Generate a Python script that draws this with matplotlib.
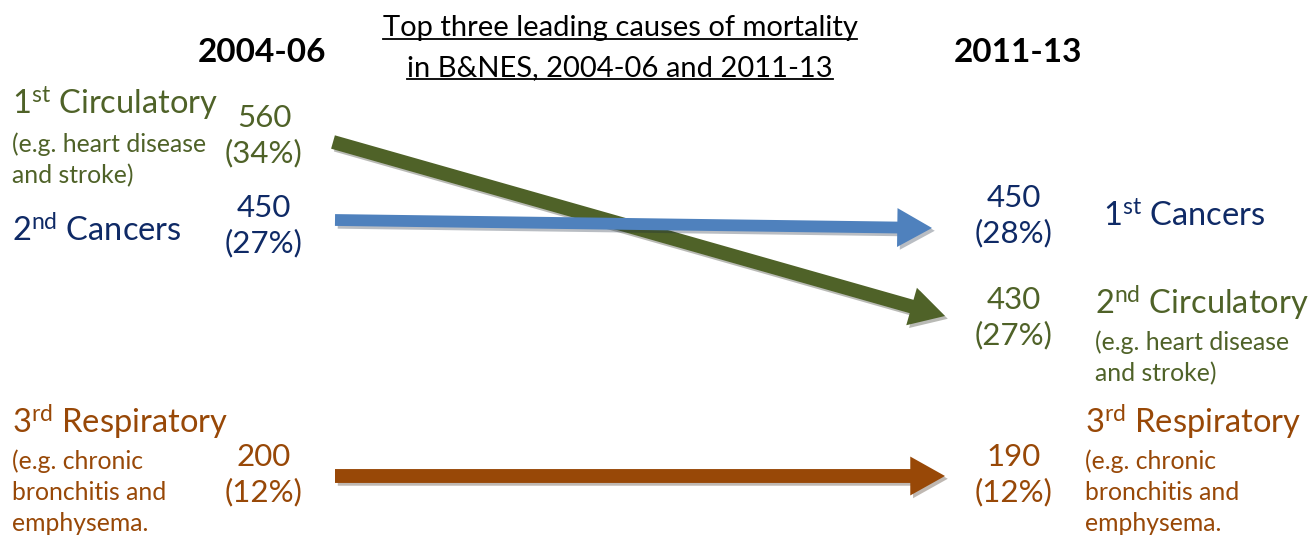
import matplotlib
matplotlib.use("Agg")
import matplotlib.pyplot as plt
import matplotlib.patheffects as pe
from matplotlib.patches import FancyArrowPatch, ArrowStyle

plt.rcParams['font.family'] = ['Lato', 'DejaVu Sans']
plt.rcParams['mathtext.fontset'] = 'custom'
plt.rcParams['mathtext.rm'] = 'Lato'
plt.rcParams['mathtext.it'] = 'Lato:italic'
plt.rcParams['mathtext.bf'] = 'Lato:bold'

# data
periods = ["2004-06", "2011-13"]
causes = ["Circulatory", "Cancers", "Respiratory"]
examples = ["(e.g. heart disease\nand stroke)", None,
            "(e.g. chronic\nbronchitis and\nemphysema."]
deaths = {"2004-06": [560, 450, 200], "2011-13": [430, 450, 190]}
shares = {"2004-06": [34, 27, 12], "2011-13": [27, 28, 12]}
ranks = {"2004-06": [1, 2, 3], "2011-13": [2, 1, 3]}
ordinals = {1: "st", 2: "nd", 3: "rd"}
title_lines = ["Top three leading causes of mortality",
               "in B&NES, 2004-06 and 2011-13"]

text_colors = ["#4F6228", "#0F2A66", "#984807"]
arrow_colors = ["#4F6228", "#4F81BD", "#984807"]

# layout (pixel space) for each period column
cols = {
    "2004-06": dict(head_x=262, name_x={1: 12, 2: 12, 3: 12}, val_x=264, arrow_x={1: 333, 2: 335, 3: 335},
                    arrow_y={1: 142, 2: 220, 3: 476}, val_y={1: 136, 2: 226, 3: 475},
                    name_y={1: 103, 2: 231, 3: 422}, desc_y={1: 132, 2: None, 3: 449}),
    "2011-13": dict(head_x=1018, name_x={1: 1103, 2: 1095, 3: 1085}, val_x=1014, arrow_x={1: 932, 2: 945, 3: 945},
                    arrow_y={1: 228, 2: 316, 3: 476}, val_y={1: 216, 2: 318, 3: 475},
                    name_y={1: 216, 2: 303, 3: 422}, desc_y={1: None, 2: 330, 3: 449}),
}

fig = plt.figure(figsize=(13.14, 5.35), dpi=100)
ax = fig.add_axes([0, 0, 1, 1])
ax.set_xlim(0, 1314)
ax.set_ylim(535, 0)
ax.axis('off')

# title, underlined
title_texts = []
for i, line in enumerate(title_lines):
    t = ax.text(620, 28 + 40 * i, line, ha='center', va='center', fontsize=21, color='black')
    title_texts.append(t)

for p in periods:
    c = cols[p]
    ax.text(c["head_x"], 52, p, ha='center', va='center', fontsize=24, fontweight='bold')
    for k, cause in enumerate(causes):
        r = ranks[p][k]
        col = text_colors[k]
        ax.text(c["name_x"][r], c["name_y"][r], f"{r}$^{{\\mathrm{{{ordinals[r]}}}}}$ {cause}",
                ha='left', va='center', fontsize=23.5, color=col)
        if examples[k] is not None and c["desc_y"][r] is not None:
            ax.text(c["name_x"][r], c["desc_y"][r], examples[k], ha='left', va='top',
                    fontsize=17.8, color=col, linespacing=1.43)
        ax.text(c["val_x"], c["val_y"][r], f"{deaths[p][k]}\n({shares[p][k]}%)",
                ha='center', va='center', multialignment='center',
                fontsize=22.5, color=col, linespacing=1.28)

# arrows from first to second period
p0, p1 = periods
for k, cause in enumerate(causes):
    r0, r1 = ranks[p0][k], ranks[p1][k]
    start = (cols[p0]["arrow_x"][r0], cols[p0]["arrow_y"][r0])
    end = (cols[p1]["arrow_x"][r1], cols[p1]["arrow_y"][r1])
    tw = 0.85 if k == 1 else 1.0
    arr = FancyArrowPatch(start, end,
                          arrowstyle=ArrowStyle.Simple(head_length=2.5, head_width=2.8, tail_width=tw),
                          mutation_scale=10, shrinkA=0, shrinkB=0,
                          color=arrow_colors[k], lw=0)
    arr.set_path_effects([pe.SimplePatchShadow(offset=(2, -2), alpha=0.3), pe.Normal()])
    ax.add_patch(arr)

fig.canvas.draw()
inv = ax.transData.inverted()
for t in title_texts:
    bb = t.get_window_extent()
    (x0, y0) = inv.transform((bb.x0, bb.y0 + 2))
    (x1, _) = inv.transform((bb.x1, bb.y0 + 2))
    ax.plot([x0, x1], [y0, y0], color='black', lw=1.3)

fig.savefig("out.png", dpi=100)
